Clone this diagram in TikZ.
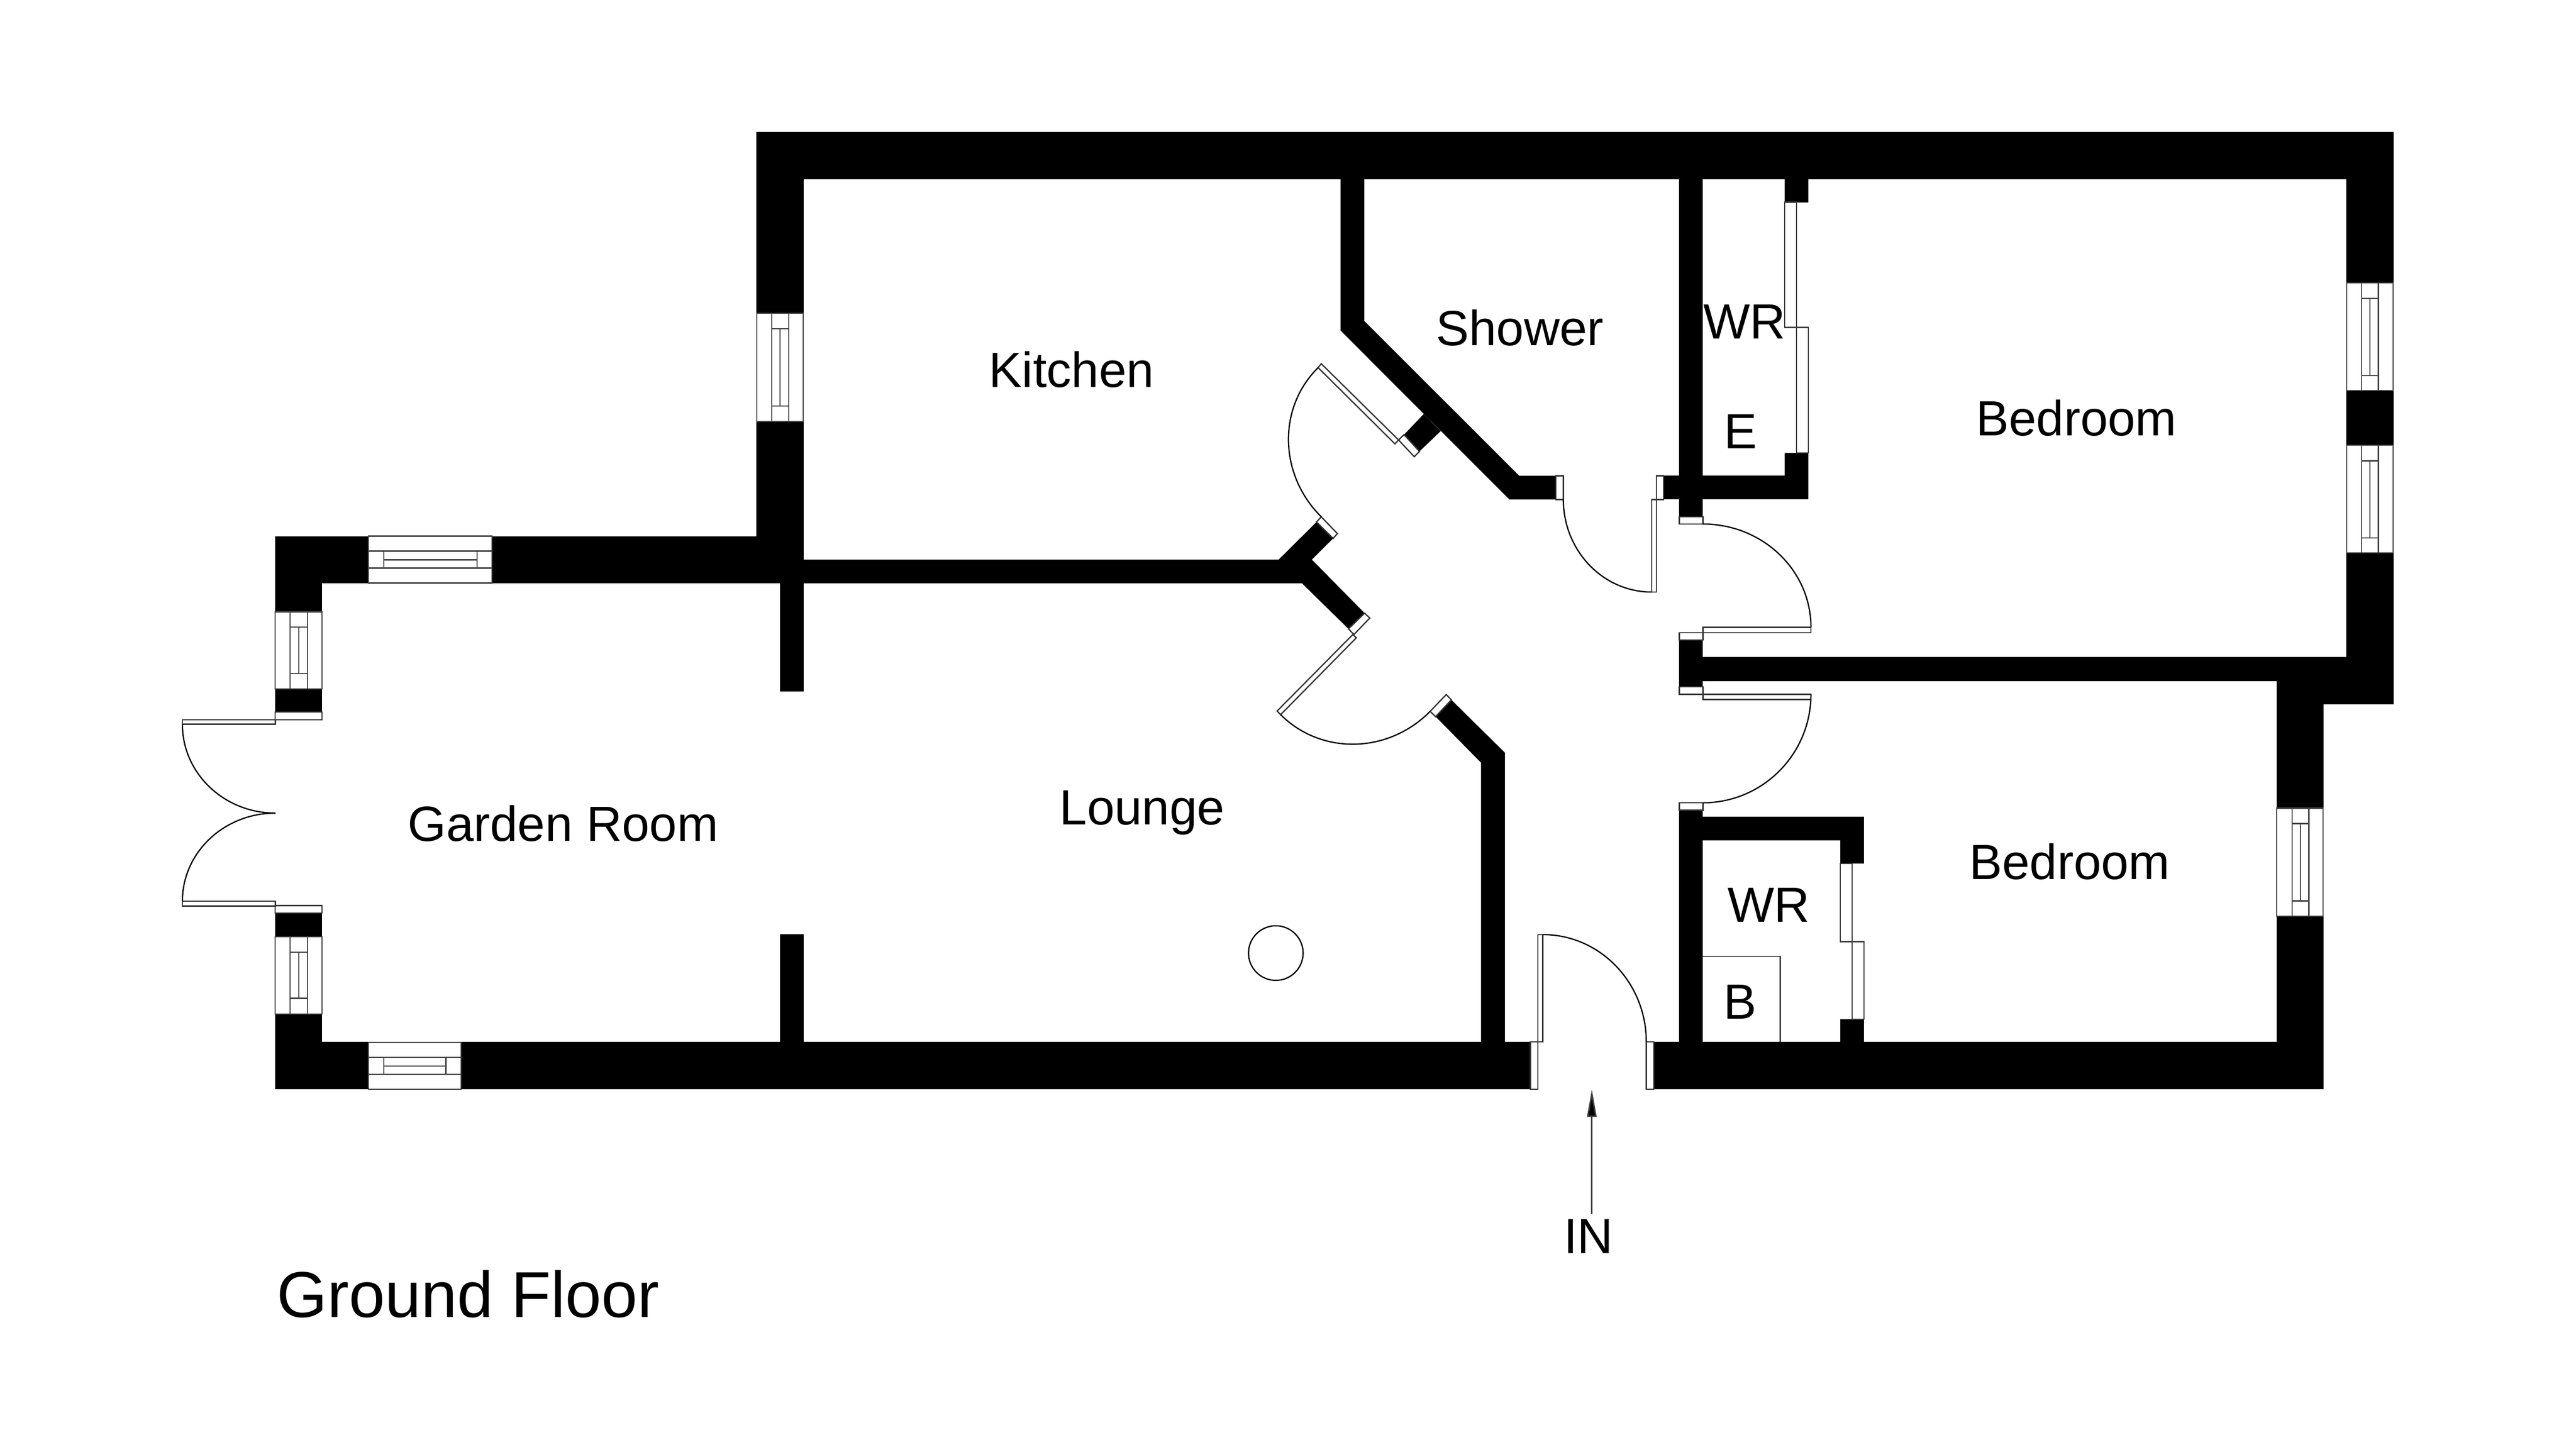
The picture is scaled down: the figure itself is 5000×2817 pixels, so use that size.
\documentclass[tikz,border=0pt]{standalone}
\usepackage{fontspec}
\setmainfont{Liberation Sans}
\usetikzlibrary{calc,arrows.meta}
\tikzset{
  wall/.style={fill=black,draw=none},
  glaze/.style={draw=black!75,line width=.55pt,fill=white},
  jamb/.style={draw=black!80,line width=.6pt,fill=white},
  swingline/.style={draw=black,line width=.6pt},
  roomtext/.style={inner sep=0pt,anchor=base,text=black,font=\fontsize{23.04}{28}\selectfont},
  titletext/.style={inner sep=0pt,anchor=base west,text=black,font=\fontsize{30.2}{36}\selectfont}
}
% filled wall rectangle: x1 y1 x2 y2
\newcommand\wallrect[4]{\fill[wall] (#1,#2) rectangle (#3,#4);}
% horizontal window: x1 x2 y1 y2 ya yb xc xd ym
\newcommand\winH[9]{\draw[glaze] (#1,#3) rectangle (#2,#4);
  \draw[glaze] (#1,#5)--(#2,#5) (#1,#6)--(#2,#6) (#7,#5)--(#7,#6) (#8,#5)--(#8,#6) (#7,#9)--(#8,#9);}
% vertical window: y1 y2 x1 x2 xa xb yc yd xm
\newcommand\winV[9]{\draw[glaze] (#3,#1) rectangle (#4,#2);
  \draw[glaze] (#5,#1)--(#5,#2) (#6,#1)--(#6,#2) (#5,#7)--(#6,#7) (#5,#8)--(#6,#8) (#9,#7)--(#9,#8);}
% door swing: centre, start, end
\newcommand\swing[3]{\coordinate (swC) at (#1); \coordinate (swS) at (#2); \coordinate (swE) at (#3);
  \draw[swingline] (swS) .. controls ($(swS)+0.5523*(swE)-0.5523*(swC)$) and ($(swE)+0.5523*(swS)-0.5523*(swC)$) .. (swE);}
\begin{document}
\begin{tikzpicture}[x=0.24pt,y=-0.24pt]
\useasboundingbox (0,0) rectangle (5000,2817);
\fill[white] (0,0) rectangle (5000,2817);

% ---- outer walls
\wallrect{1468}{256}{4646}{347.6}
\wallrect{1468}{256}{1560}{1132}
\wallrect{4554}{256}{4646}{1366.6}
\wallrect{4419}{1321}{4646}{1366.6}
\wallrect{4419}{1275}{4510}{2114}
\wallrect{534}{1040.5}{1560}{1132}
\wallrect{534}{1040.5}{625}{1382}
\wallrect{534}{1772}{625}{2114}
\wallrect{534}{2022}{2970.3}{2114}
\wallrect{3210}{2022}{4510}{2114}
% ---- partitions
\wallrect{1514}{1132}{1560}{1342}
\wallrect{1514}{1812.7}{1560}{2023.5}
\wallrect{3259.4}{1275}{4554}{1321.5}
\wallrect{3259.4}{1242}{3305.3}{1332.8}
\wallrect{3259.4}{347}{3305.3}{1003}
\wallrect{3228.8}{923.3}{3509.7}{969.3}
\wallrect{3463.8}{347}{3509.7}{392.6}
\wallrect{3463.8}{879}{3509.7}{969.3}
\wallrect{3259.4}{1572.6}{3305.3}{2023.5}
\wallrect{3259.4}{1584.6}{3618}{1630.5}
\wallrect{3572}{1584.6}{3618}{1675.8}
\wallrect{3572}{1978}{3618}{2023.5}
% kitchen / shower diagonal
\fill[wall] (2602,347)--(2648,347)--(2648,623)--(2948.7,923.3)--(3020,923.3)--(3020,969.3)--(2929.6,969.3)--(2602,641.5)--cycle;
\fill[wall] (2763.5,803.4)--(2796.4,836.6)--(2755.1,876.1)--(2725.2,843.6)--cycle;
% kitchen / lounge wall with its two arms
\fill[wall] (1560,1086)--(2481.9,1086)--(2555.4,1013)--(2587.5,1045)--(2546.2,1086)--(2648.7,1190)--(2617.3,1220.5)--(2527,1132)--(1560,1132)--cycle;
% lounge east wall
\fill[wall] (2817.1,1358.3)--(2921.2,1461)--(2921.2,2030)--(2874.5,2030)--(2874.5,1480)--(2786.5,1390.8)--cycle;

% ---- windows
\winH{715}{955}{1040.5}{1131.6}{1069.6}{1102.5}{745}{926}{1086.5}
\winH{715}{895}{2023}{2114}{2052}{2085}{745}{865.5}{2069}
\winV{1187.5}{1336.7}{534}{625}{563}{597}{1217}{1307}{580}
\winV{1818}{1968}{534}{625}{563}{597}{1848}{1937.5}{580}
\winV{608}{818}{1469}{1559}{1498}{1531}{638}{788}{1514}
\winV{549}{758}{4555}{4645}{4583.7}{4616.3}{579.3}{728.8}{4600}
\winV{864}{1073.3}{4555}{4645}{4583.7}{4616.3}{894.4}{1043.9}{4600}
\winV{1568.6}{1777.8}{4419}{4509}{4448.8}{4481.3}{1598.6}{1748.5}{4465}

% ---- sliding wardrobe doors
\draw[glaze] (3464,392.6) rectangle (3487,635.4);
\draw[glaze] (3487,635.4) rectangle (3510,879);
\draw[glaze] (3572.2,1675.8) rectangle (3595,1827.5);
\draw[glaze] (3595,1827.5) rectangle (3618,1978);

% boiler box
\draw[glaze,fill=none] (3305.3,1856)--(3455.5,1856)--(3455.5,2022);

% ---- garden doors
\draw[jamb] (534,1382) rectangle (625,1397);
\draw[jamb] (534,1757.6) rectangle (625,1772);
\draw[jamb] (354,1397) rectangle (534.6,1405.6);
\draw[jamb] (354,1749) rectangle (534.6,1758.4);
\swing{534.6,1405.6}{354,1405.6}{534.6,1578}
\swing{534.6,1749}{354,1749}{534.6,1578}

% ---- kitchen door
\draw[jamb] (2725.2,843.6)--(2755.1,876.1)--(2745.1,886.4)--(2714.5,853.8)--cycle;
\draw[jamb] (2564.5,705.9)--(2714.5,853.8)--(2707.6,861.5)--(2558.4,713.5)--cycle;
\draw[jamb] (2564.5,1003)--(2595.9,1035.6)--(2587.5,1045)--(2555.4,1013)--cycle;
\swing{2707.6,861.5}{2558.4,713.5}{2564.5,1003}

% ---- lounge door
\draw[jamb] (2648.7,1190)--(2658.7,1199.5)--(2628,1231.4)--(2617.3,1220.5)--cycle;
\draw[jamb] (2625.8,1231.4)--(2632.6,1237.8)--(2485.7,1387)--(2478.8,1380)--cycle;
\draw[jamb] (2807.1,1348)--(2817.1,1358.3)--(2786.5,1390.8)--(2775.8,1380.6)--cycle;
\swing{2632.6,1237.8}{2485.7,1387}{2775.8,1380.6}

% ---- shower door
\draw[jamb] (3020,923.3) rectangle (3034.4,969.3);
\draw[jamb] (3215,923.3) rectangle (3228.8,969.3);
\draw[jamb] (3205.9,969.3) rectangle (3215,1149);
\swing{3205.9,969.3}{3034.4,969.3}{3205.9,1149}

% ---- bedroom doors
\draw[jamb] (3259.4,1003) rectangle (3305.3,1017);
\draw[jamb] (3259.4,1228.2) rectangle (3305.3,1242);
\draw[jamb] (3305.3,1217.3) rectangle (3515,1228.2);
\swing{3305.3,1217.3}{3305.3,1017}{3515,1217.3}
\draw[jamb] (3259.4,1332.8) rectangle (3305.3,1347.4);
\draw[jamb] (3305.3,1347.4) rectangle (3515,1357.6);
\draw[jamb] (3259.4,1558) rectangle (3305.3,1572.6);
\swing{3305.3,1347.4}{3515,1347.4}{3305.3,1558}

% ---- entrance door
\draw[jamb] (2970.3,2022) rectangle (2985,2114);
\draw[jamb] (3195.4,2022) rectangle (3210,2114);
\draw[jamb] (2985,1813.8) rectangle (2994.5,2022);
\swing{2994.5,2022}{2994.5,1813.8}{3195.4,2022}

% ---- circle in lounge
\draw[swingline] (2476.3,1849.7) ellipse [x radius=53, y radius=53];

% ---- entrance arrow
\coordinate (inTail) at (3089.7,2355.7);
\coordinate (inTip) at (3089.7,2114.3);
\draw[draw=black!75,line width=.7pt,-{Triangle[length=12.8pt,width=4.4pt,fill=black]}] (inTail) -- (inTip);

% ---- labels
\node[roomtext] (kitchen) at (2080,751) {Kitchen};
\node[roomtext] (shower) at (2950,670) {Shower};
\node[roomtext] (wrtop) at (3386,657) {WR};
\node[roomtext] (etop) at (3378,870.5) {E};
\node[roomtext] (bedone) at (4030,845) {Bedroom};
\node[roomtext] (bedtwo) at (4017,1706) {Bedroom};
\node[roomtext] (wrlow) at (3433,1789) {WR};
\node[roomtext] (blow) at (3377,1977) {B};
\node[roomtext] (garden) at (1093,1632) {Garden Room};
\node[roomtext] (lounge) at (2217,1600) {Lounge};
\node[roomtext] (inlabel) at (3083,2432) {IN};
\node[titletext] (title) at (537,2556) {Ground Floor};
\end{tikzpicture}
\end{document}
